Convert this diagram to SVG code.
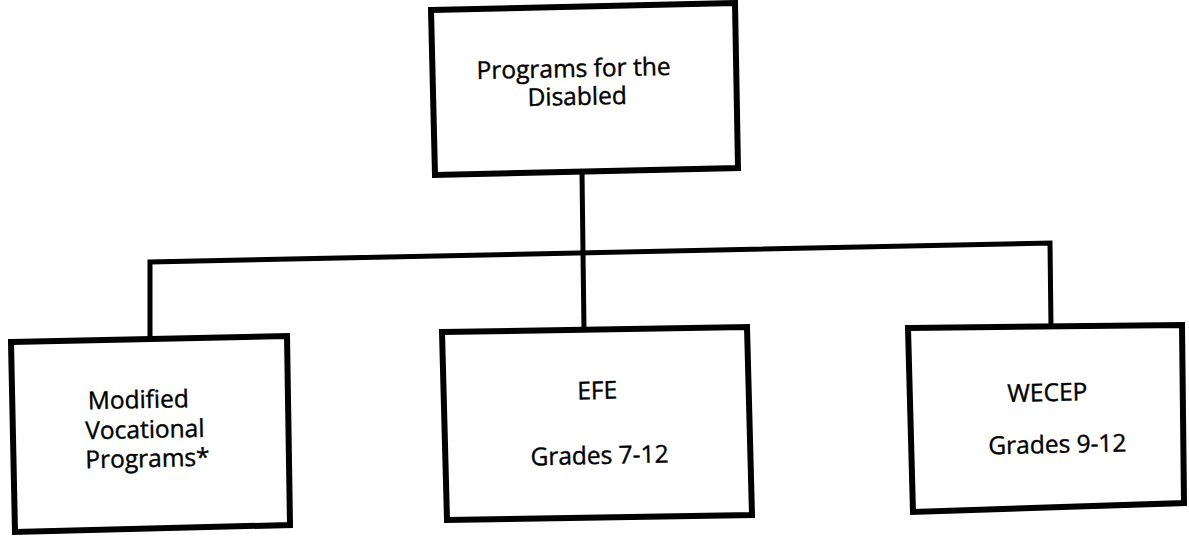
<svg xmlns="http://www.w3.org/2000/svg" width="1189" height="539" viewBox="0 0 1189 539">
  <style>
    .box { fill: #fff; stroke: #000; stroke-width: 6; stroke-linejoin: miter; }
    .wire { fill: none; stroke: #000; stroke-width: 5; }
    .label { font-family: "Open Sans", "Liberation Sans", sans-serif; font-size: 24.5px; fill: #000; stroke: #000; stroke-width: 0.4; text-anchor: middle; }
  </style>
  <rect width="1189" height="539" fill="#fff"/>

  <g id="connectors">
    <polyline class="wire" points="582,172 583,253"/>
    <polyline class="wire" points="150,338 150,262 1050,243 1051,326"/>
    <polyline class="wire" points="583,253 584,330"/>
  </g>

  <g id="node-root">
    <polygon class="box" points="431,10 735,3 738,168 435,175"/>
    <text class="label" transform="rotate(-1.2 575 90)"><tspan x="574" y="77">Programs for the</tspan><tspan x="577" y="105">Disabled</tspan></text>
  </g>

  <g id="node-modified">
    <polygon class="box" points="11,342 287,336 290,525 15,532"/>
    <text class="label" transform="rotate(-1.2 145 435)"><tspan x="139" y="408">Modified</tspan><tspan x="145" y="438">Vocational</tspan><tspan x="147" y="467">Programs*</tspan></text>
  </g>

  <g id="node-efe">
    <polygon class="box" points="442,332 747,327 752,515 447,520"/>
    <text class="label" transform="rotate(-1.2 598 430)"><tspan x="598" y="399">EFE</tspan><tspan x="599" y="464">Grades 7-12</tspan></text>
  </g>

  <g id="node-wecep">
    <polygon class="box" points="908,328 1182,325 1184,503 913,512"/>
    <text class="label" transform="rotate(-1.2 1050 425)"><tspan x="1048" y="401">WECEP</tspan><tspan x="1057" y="453">Grades 9-12</tspan></text>
  </g>
</svg>
